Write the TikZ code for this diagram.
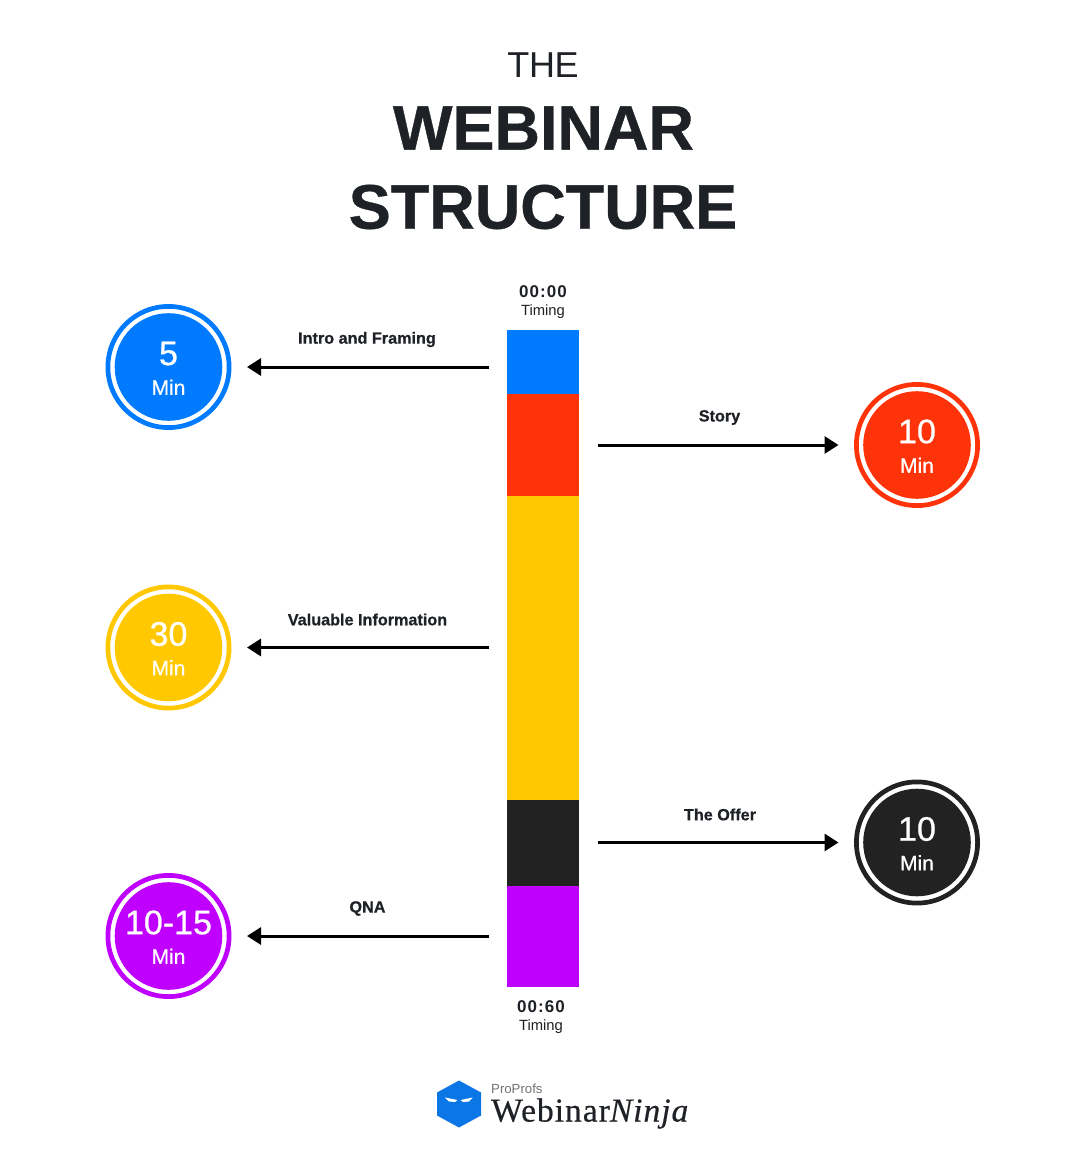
\documentclass[tikz,border=0pt]{standalone}
\usepackage{fontspec}
\setmainfont{Liberation Sans}
\newfontfamily\logoserif[LetterSpace=3,FakeBold=0.5]{Liberation Serif}
\newfontfamily\medium[FakeBold=0.7]{Liberation Sans}
\newfontfamily\thin[LetterSpace=-1]{Liberation Sans}
\newfontfamily\widebold[LetterSpace=6]{Liberation Sans Bold}
\newfontfamily\heavy[FakeBold=0.6]{Liberation Sans Bold}
\usetikzlibrary{arrows.meta}
\definecolor{ink}{HTML}{1E2125}
\definecolor{cblue}{HTML}{007BFF}
\definecolor{cred}{HTML}{FF330A}
\definecolor{cyellow}{HTML}{FFC800}
\definecolor{cdark}{HTML}{222222}
\definecolor{cpurple}{HTML}{BF00FF}
\definecolor{logoblue}{HTML}{0B76E6}
\tikzset{
  seg/.style={fill=#1,draw=none,minimum width=72pt,inner sep=0,outer sep=0,anchor=north},
  ringin/.style={circle,fill=#1,draw=none,minimum size=107.6pt,inner sep=0,outer sep=0},
  num/.style={text=white,font=\medium\fontsize{34}{36}\selectfont,inner sep=0},
  mins/.style={text=white,font=\medium\fontsize{21}{24}\selectfont,inner sep=0},
  lab/.style={text=ink,font=\heavy\fontsize{16.2}{19}\selectfont,inner sep=0},
  tim/.style={text=ink,font=\fontsize{14.8}{17}\selectfont,inner sep=0},
  timb/.style={text=ink,font=\widebold\fontsize{17}{19}\selectfont,inner sep=0},
  ttl/.style={text=ink,font=\heavy\fontsize{63}{70}\selectfont,inner sep=0},
  arr/.style={draw=black,line width=3pt,-{Triangle[length=14pt,width=17pt]},shorten <=18.5pt,shorten >=15.5pt},
}
\newcommand{\badge}[5]{% name, x, y, colour, number
  \node[ringin=#4] (#1) at (#2,#3) {};
  \draw[#4,line width=4.7pt] (#1.center) circle[radius=60.6pt];
  \node[num] (#1n) at (#2,#3-13.5) {#5};
  \node[mins] (#1m) at (#2,#3+20.3) {Min};
}
\begin{document}
\begin{tikzpicture}[x=1pt,y=-1pt]
\useasboundingbox (0,0) rectangle (1086,1170);
\fill[white] (0,0) rectangle (1086,1170);
\node[text=ink,font=\thin\fontsize{36}{40}\selectfont,inner sep=0] (the) at (543,65) {THE};
\node[ttl] (t1) at (543.5,128) {WEBINAR};
\node[ttl] (t2) at (543,207) {STRUCTURE};
% bar
\node[seg=cblue,minimum height=65pt] (s1) at (543,329.5) {};
\node[seg=cred,minimum height=101.5pt] (s2) at (543,394) {};
\node[seg=cyellow,minimum height=304pt] (s3) at (543,495.5) {};
\node[seg=cdark,minimum height=86pt] (s4) at (543,799.5) {};
\node[seg=cpurple,minimum height=101.5pt] (s5) at (543,885.5) {};
\node[timb] (t00) at (543,291.5) {00:00};
\node[tim] (tt0) at (543,311.5) {Timing};
\node[timb] (t60) at (541,1006.5) {00:60};
\node[tim] (tt6) at (541,1026.5) {Timing};
% badges
\badge{b1}{168.5}{367}{cblue}{5}
\badge{b2}{917}{445}{cred}{10}
\badge{b3}{168.5}{647.5}{cyellow}{30}
\badge{b4}{917}{842.5}{cdark}{10}
\badge{b5}{168.5}{936}{cpurple}{10-15}
% arrows
\path (b1.center) ++(63,0) coordinate (e1);
\path (b2.center) ++(-63,0) coordinate (e2);
\path (b3.center) ++(63,0) coordinate (e3);
\path (b4.center) ++(-63,0) coordinate (e4);
\path (b5.center) ++(63,0) coordinate (e5);
\draw[arr] (s1.west |- e1) -- (e1);
\draw[arr] (s2.east |- e2) -- (e2);
\draw[arr] (s3.west |- e3) -- (e3);
\draw[arr] (s4.east |- e4) -- (e4);
\draw[arr] (s5.west |- e5) -- (e5);
\node[lab] (l1) at (367,339.5) {Intro and Framing};
\node[lab] (l2) at (719.5,417.5) {Story};
\node[lab] (l3) at (367.5,619.5) {Valuable Information};
\node[lab] (l4) at (720,814.5) {The Offer};
\node[lab] (l5) at (367.5,908.5) {QNA};
% logo
\fill[logoblue] (459,1080.5) -- (481,1092.5) -- (481,1115.5) -- (459,1127.5) -- (437,1115.5) -- (437,1092.5) -- cycle;
\fill[white] (445,1097.5) -- (457.5,1100) -- (455,1102) -- (449,1101.5) -- cycle;
\fill[white] (472.8,1097.5) -- (460.5,1100) -- (463,1102) -- (469,1101.5) -- cycle;
\node[text=black!55,font=\fontsize{13.2}{15}\selectfont,inner sep=0,anchor=west] (pp) at (491,1089) {ProProfs};
\node[text=ink,font=\logoserif\fontsize{33.5}{36}\selectfont,inner sep=0,anchor=west] (wn) at (491,1113.5) {Webinar\textit{Ninja}};
\end{tikzpicture}
\end{document}
